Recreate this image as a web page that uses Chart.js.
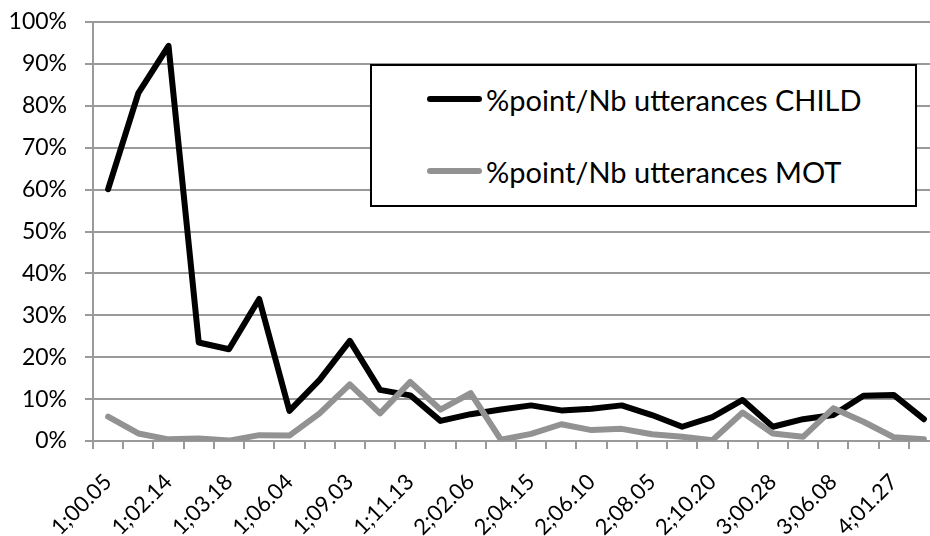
<!DOCTYPE html>
<html>
<head>
<meta charset="utf-8">
<script src="https://cdn.jsdelivr.net/npm/chart.js@4/dist/chart.umd.min.js"></script>
<style>
  html, body { margin: 0; padding: 0; background: #fff; overflow: hidden; }
  #wrap { position: relative; width: 940px; height: 536px; }
  #legendBox {
    position: absolute; left: 370px; top: 64px; width: 543px; height: 139px;
    border: 2px solid #000; background: #fff;
    font-family: Lato, "Liberation Sans", sans-serif; font-size: 29px; color: #000;
  }
  .row { position: absolute; left: 55px; height: 40px; display: flex; align-items: center; white-space: nowrap; }
  .swatch { width: 55px; height: 6px; border-radius: 3px; margin-right: 4px; }
</style>
</head>
<body>
<div id="wrap">
  <canvas id="chart" width="940" height="536"></canvas>
  <div id="legendBox"></div>
</div>
<script>
// session ages (only every other one is printed on the axis)
const ages = [
  "1;00.05", "", "1;02.14", "", "1;03.18", "", "1;06.04", "", "1;09.03", "",
  "1;11.13", "", "2;02.06", "", "2;04.15", "", "2;06.10", "", "2;08.05", "",
  "2;10.20", "", "3;00.28", "", "3;06.08", "", "4;01.27", ""
];
const childPct = [60.1, 83.0, 94.3, 23.5, 21.9, 33.9, 7.2, 14.6, 23.9, 12.2,
  10.9, 4.8, 6.4, 7.5, 8.5, 7.3, 7.7, 8.5, 6.2, 3.4,
  5.7, 9.8, 3.4, 5.2, 6.2, 10.8, 11.0, 5.2];
const motPct = [5.8, 1.8, 0.4, 0.6, 0.1, 1.4, 1.3, 6.6, 13.5, 6.6,
  14.1, 7.5, 11.4, 0.3, 1.7, 4.0, 2.6, 2.9, 1.6, 1.0,
  0.2, 6.8, 1.8, 1.0, 7.8, 4.6, 0.9, 0.4];
const seriesNames = ["%point/Nb utterances CHILD", "%point/Nb utterances MOT"];
const yTicks = [0, 10, 20, 30, 40, 50, 60, 70, 80, 90, 100];

const GRID = "#9a9a9a";
const FONT = "Lato, 'Liberation Sans', sans-serif";

const chart = new Chart(document.getElementById("chart"), {
  type: "line",
  data: {
    labels: ages,
    datasets: [
      { label: seriesNames[0], data: childPct, borderColor: "#000", borderWidth: 6, order: 2 },
      { label: seriesNames[1], data: motPct, borderColor: "#929292", borderWidth: 6, order: 1 },
    ],
  },
  options: {
    responsive: false,
    animation: false,
    events: [],
    layout: { padding: { top: 22, right: 1, left: 0, bottom: 0 } },
    elements: {
      line: { tension: 0, borderJoinStyle: "round", borderCapStyle: "round" },
      point: { radius: 0 },
    },
    plugins: { legend: { display: false }, tooltip: { enabled: false } },
    scales: {
      x: {
        offset: true,
        grid: { display: true, offset: true, drawOnChartArea: false, color: GRID, lineWidth: 2, tickLength: 8 },
        border: { color: GRID, width: 2 },
        ticks: { autoSkip: false, minRotation: 45, maxRotation: 45, padding: 20, color: "#000", font: { family: FONT, size: 22 } },
        afterFit: (s) => { s.height = 95; s.paddingLeft = 0; s.paddingRight = 0; },
      },
      y: {
        min: 0,
        max: 100,
        afterBuildTicks: (s) => { s.ticks = yTicks.map((v) => ({ value: v })); },
        grid: { color: GRID, lineWidth: 2, tickLength: 8 },
        border: { color: GRID, width: 2 },
        ticks: { padding: 18, color: "#000", font: { family: FONT, size: 23 }, callback: (v) => v + "%" },
        afterFit: (s) => { s.width = 93; s.paddingTop = 0; s.paddingBottom = 0; },
      },
    },
  },
});

// legend box drawn as html, built from the datasets
const box = document.getElementById("legendBox");
const rowCenters = [33, 105];
chart.data.datasets.forEach((ds, i) => {
  const row = document.createElement("div");
  row.className = "row";
  row.style.top = (rowCenters[i] - 20) + "px";
  const sw = document.createElement("span");
  sw.className = "swatch";
  sw.style.background = ds.borderColor;
  const txt = document.createElement("span");
  txt.textContent = ds.label;
  row.appendChild(sw);
  row.appendChild(txt);
  box.appendChild(row);
});
</script>
</body>
</html>
